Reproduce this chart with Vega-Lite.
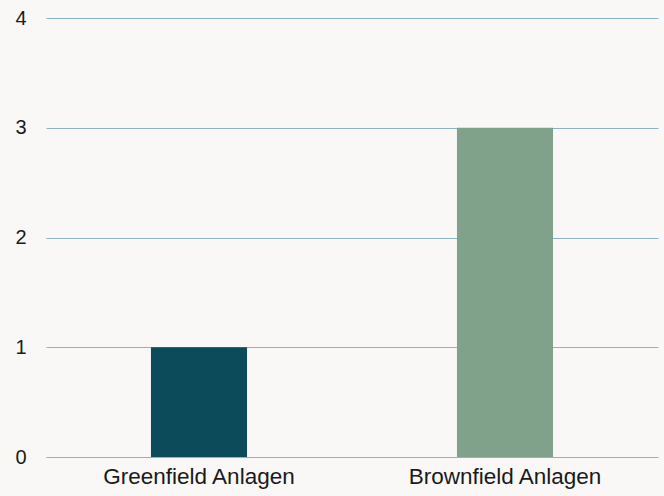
{
  "$schema": "https://vega.github.io/schema/vega-lite/v6.json",
  "autosize": "none",
  "width": 618,
  "height": 439,
  "padding": {"left": 46, "top": 18, "right": 0, "bottom": 39},
  "background": "#f9f8f6",
  "config": {"view": {"stroke": null}},
  "data": {"values": [
    {"kategorie": "Greenfield Anlagen", "wert": 1},
    {"kategorie": "Brownfield Anlagen", "wert": 3}
  ]},
  "mark": {"type": "bar", "width": {"band": 0.314}},
  "encoding": {
    "x": {"field": "kategorie", "type": "nominal", "sort": null,
      "scale": {"range": [0, 612], "paddingInner": 0, "paddingOuter": 0},
      "axis": {"title": null, "labelAngle": 0, "domain": false, "ticks": false, "labelFont": "Liberation Sans", "labelFontSize": 22.5, "labelLimit": 0, "labelColor": "#1a1a1a", "labelPadding": 8}},
    "y": {"field": "wert", "type": "quantitative",
      "scale": {"domain": [0, 4]},
      "axis": {"title": null, "values": [0, 1, 2, 3, 4], "labelOverlap": false, "domain": false, "ticks": false, "gridColor": "#8ab4c9", "gridWidth": 1, "labelFont": "Liberation Sans", "labelFontSize": 20, "labelColor": "#1a1a1a", "labelPadding": 20}},
    "color": {"field": "kategorie", "type": "nominal", "legend": null,
      "scale": {"domain": ["Greenfield Anlagen", "Brownfield Anlagen"], "range": ["#0c4c5a", "#80a28a"]}}
  }
}
